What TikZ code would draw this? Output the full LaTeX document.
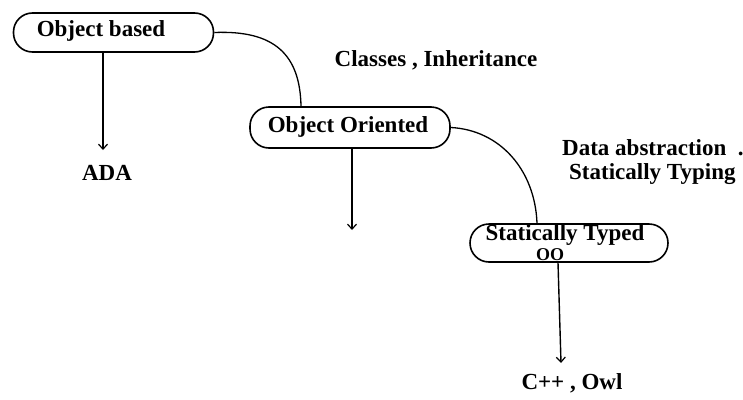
\documentclass[tikz,border=0pt]{standalone}
\usepackage{fontspec}
\setmainfont{Liberation Serif}
\usetikzlibrary{arrows.meta}
\begin{document}
\begin{tikzpicture}[x=1pt,y=-1pt,
  lbl/.style={font=\fontsize{23}{25}\selectfont\bfseries, inner sep=0pt},
  stadium/.style={draw, line width=1.6pt, rounded corners=19pt, inner sep=0pt},
  link/.style={line width=1.3pt},
  down/.style={line width=1.4pt, -{Straight Barb[length=5pt,width=9pt,line width=1.2pt]}}]
  \useasboundingbox (0,0) rectangle (743,399);

  % rounded boxes
  \node[stadium, minimum width=200pt, minimum height=39pt] (ob) at (113.5,32.5) {};
  \node[stadium, minimum width=200pt, minimum height=41pt] (oo) at (350,127.5) {};
  \node[stadium, minimum width=198pt, minimum height=38pt] (st) at (569,243) {};

  % box texts
  \node[lbl] (obt) at (101,31) {Object based};
  \node[lbl] (oot) at (348,127) {Object Oriented};
  \node[lbl] (stt) at (565,235) {Statically Typed};
  \node[lbl, font=\fontsize{18}{19}\selectfont\bfseries] (sto) at (550,255) {OO};

  % free labels
  \node[lbl, anchor=west] (dab) at (562,148) {Data abstraction \ .};
  \node[lbl, anchor=west] (sty) at (569,174) {Statically Typing};
  \node[lbl] (ada) at (107,173) {ADA};
  \node[lbl] (cls) at (436,60) {Classes , Inheritance};
  \node[lbl] (cpp) at (572,383) {C++ , Owl};

  % arrow end points
  \coordinate (a1) at (103,150);
  \coordinate (a2) at (352,230);
  \coordinate (a3) at (561,363);

  % downward arrows
  \draw[down] (ob.south -| a1) -- (a1);
  \draw[down] (oo.south -| a2) -- (a2);
  \draw[down] (st.south -| 558,0) -- (a3);

  % curved links between levels
  \draw[link] (ob.east) .. controls (275,30) and (300,55) .. (oo.north -| 301,0);
  \draw[link] (oo.east) .. controls (500,130) and (535,170) .. (st.north -| 537,0);
\end{tikzpicture}
\end{document}
